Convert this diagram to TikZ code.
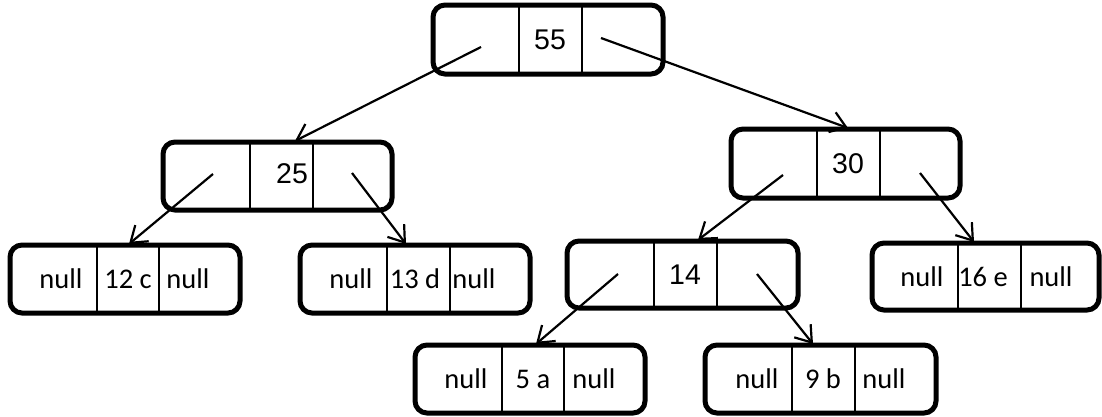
\documentclass[tikz,border=0pt]{standalone}
\usepackage{fontspec}
\setmainfont{Liberation Sans}
\newfontfamily\leaffont{Carlito}
\usetikzlibrary{arrows.meta}
\newcommand\tbox[7]{%
  \node[box, minimum width={(#4-#2)*1pt}, minimum height={(#5-#3)*1pt}] (#1) at ({(#2+#4)/2},{(#3+#5)/2}) {};
  \draw[divider] (#6,#3) -- (#6,#5);
  \draw[divider] (#7,#3) -- (#7,#5);}
\begin{document}
\begin{tikzpicture}[x=1pt,y=-1pt,
  box/.style={draw, line width=5pt, rounded corners=12pt, inner sep=0pt},
  divider/.style={line width=1.8pt},
  arr/.style={line width=2.2pt, -{Straight Barb[length=15pt,width=21pt]}},
  lbl/.style={inner sep=0pt, font=\fontsize{28.5}{30}\selectfont},
  leaf/.style={inner sep=0pt, font=\leaffont\fontsize{28.5}{30}\selectfont}]
\useasboundingbox (0,0) rectangle (1102,416);

% internal nodes
\tbox{n55}{433}{5}{663}{74}{519}{582}
\node[lbl] (t55) at (550,40) {55};
\tbox{n25}{163}{142}{392}{210}{250}{313}
\node[lbl] (t25) at (292,174) {25};
\tbox{n30}{731}{129}{960}{198}{817}{880}
\node[lbl] (t30) at (848,164) {30};
\tbox{n14}{567}{241}{798}{308}{654}{717}
\node[lbl] (t14) at (685,275) {14};

% leaves
\tbox{l12}{10}{245}{240}{313}{97}{159}
\node[leaf] (l12a) at (61,279) {null};
\node[leaf] (l12b) at (128,279) {12 c};
\node[leaf] (l12c) at (188,279) {null};
\tbox{l13}{300}{245}{530}{313}{387}{450}
\node[leaf] (l13a) at (351,279) {null};
\node[leaf] (l13b) at (415,279) {13 d};
\node[leaf] (l13c) at (474,279) {null};
\tbox{l16}{872}{243}{1099}{310}{958}{1021}
\node[leaf] (l16a) at (922,277) {null};
\node[leaf] (l16b) at (983,277) {16 e};
\node[leaf] (l16c) at (1051,277) {null};
\tbox{l5}{415}{345}{645}{413}{502}{564}
\node[leaf] (l5a) at (466,379) {null};
\node[leaf] (l5b) at (533,379) {5 a};
\node[leaf] (l5c) at (594,379) {null};
\tbox{l9}{705}{345}{936}{413}{792}{855}
\node[leaf] (l9a) at (757,379) {null};
\node[leaf] (l9b) at (823,379) {9 b};
\node[leaf] (l9c) at (884,379) {null};

% connector ends
\coordinate (s55l) at (481,47);  \coordinate (e55l) at (295,141);
\coordinate (s55r) at (601,38);  \coordinate (e55r) at (848,128);
\coordinate (s25l) at (213,174); \coordinate (e25l) at (129,244);
\coordinate (s25r) at (352,173); \coordinate (e25r) at (406,244);
\coordinate (s30l) at (783,175); \coordinate (e30l) at (698,240);
\coordinate (s30r) at (920,173); \coordinate (e30r) at (974,242);
\coordinate (s14l) at (618,274); \coordinate (e14l) at (536,344);
\coordinate (s14r) at (757,274); \coordinate (e14r) at (813,344);

\draw[arr] (s55l) -- (e55l);
\draw[arr] (s55r) -- (e55r);
\draw[arr] (s25l) -- (e25l);
\draw[arr] (s25r) -- (e25r);
\draw[arr] (s30l) -- (e30l);
\draw[arr] (s30r) -- (e30r);
\draw[arr] (s14l) -- (e14l);
\draw[arr] (s14r) -- (e14r);
\end{tikzpicture}
\end{document}
